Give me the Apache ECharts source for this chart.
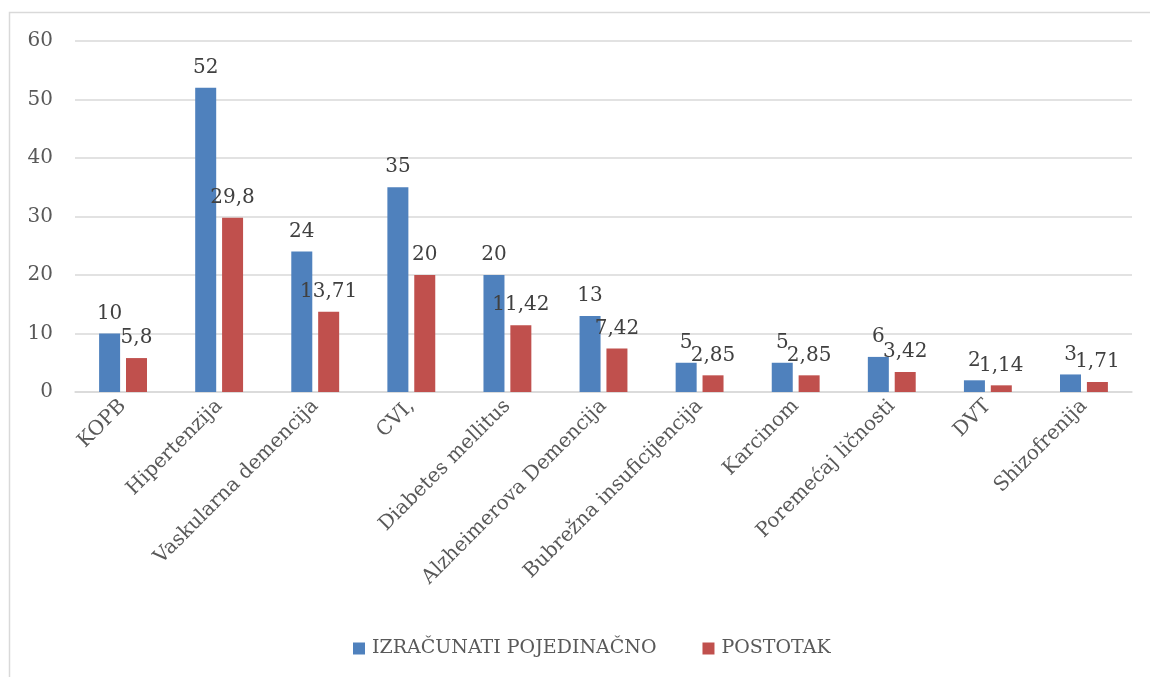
<!DOCTYPE html>
<html><head><meta charset="utf-8">
<script src="https://cdn.jsdelivr.net/npm/echarts@6/dist/echarts.min.js"></script>
<style>html,body{margin:0;padding:0;background:#fff}#c{width:1150px;height:677px}</style>
</head><body><div id="c"></div>
<script>
const categories = ['KOPB','Hipertenzija','Vaskularna demencija','CVI,','Diabetes mellitus','Alzheimerova Demencija','Bubrežna insuficijencija','Karcinom','Poremećaj ličnosti','DVT','Shizofrenija'];
const seriesNames = ['IZRAČUNATI POJEDINAČNO','POSTOTAK'];
const counts = [10,52,24,35,20,13,5,5,6,2,3];
const percents = [5.8,29.8,13.71,20,11.42,7.42,2.85,2.85,3.42,1.14,1.71];
const font = 'DejaVu Serif';
const chart = echarts.init(document.getElementById('c'));
const lbl = {show:true, position:'top', distance:10, fontFamily:font, fontSize:20, color:'#404040',
  formatter: p => String(p.value).replace('.', ',')};
chart.setOption({
  animation:false,
  graphic:[{type:'polyline', shape:{points:[[1150,12.5],[9.5,12.5],[9.5,677]]}, style:{stroke:'#d9d9d9', lineWidth:1.5, fill:null}}],
  grid:{left:75, right:18, top:41, bottom:285},
  legend:{bottom:14, left:348, itemWidth:12, itemHeight:12, itemGap:46, icon:'rect',
    textStyle:{fontFamily:font, fontSize:19, color:'#595959', padding:[0,0,0,2]}, data:seriesNames},
  xAxis:{type:'category', data:categories,
    axisLine:{lineStyle:{color:'#d9d9d9', width:1.5}}, axisTick:{show:false},
    axisLabel:{rotate:45, interval:0, fontFamily:font, fontSize:20, color:'#595959', margin:11}},
  yAxis:{type:'value', min:0, max:60, interval:10,
    axisLine:{show:false}, axisTick:{show:false},
    splitLine:{lineStyle:{color:'#d9d9d9', width:1.5}},
    axisLabel:{fontFamily:font, fontSize:20, color:'#595959', margin:22}},
  series:[
    {name:seriesNames[0], type:'bar', data:counts, barWidth:21, barGap:'28%', itemStyle:{color:'#4F81BD'}, label:lbl},
    {name:seriesNames[1], type:'bar', data:percents, barWidth:21, itemStyle:{color:'#C0504D'}, label:lbl}
  ]
});
</script></body></html>
